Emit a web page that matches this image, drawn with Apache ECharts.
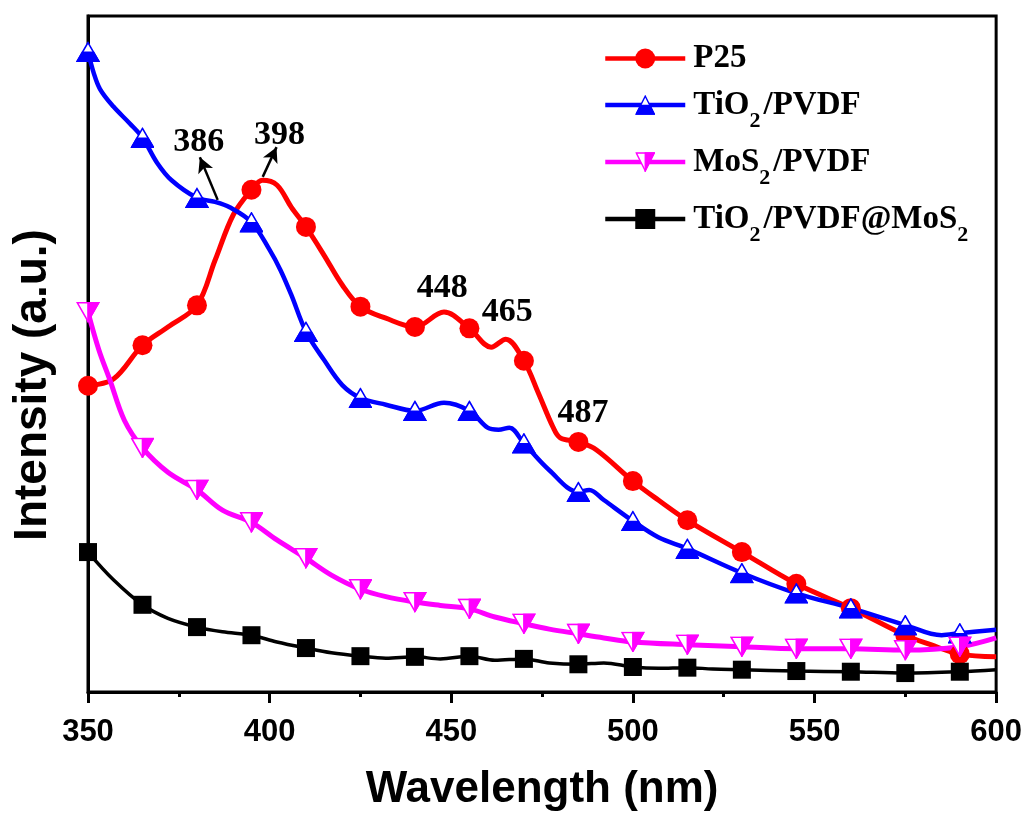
<!DOCTYPE html>
<html>
<head>
<meta charset="utf-8">
<script src="https://cdn.jsdelivr.net/npm/echarts@6/dist/echarts.min.js"></script>
<style>html,body{margin:0;padding:0;background:#fff}#c{width:1025px;height:819px}</style>
</head>
<body>
<div id="c"></div>
<script>
// ---- data ----
const xTicks = [350, 400, 450, 500, 550, 600];
const markerWl = [350,365,380,395,410,425,440,455,470,485,500,515,530,545,560,575,590];

const seriesNames = ['P25', 'TiO2/PVDF', 'MoS2/PVDF', 'TiO2/PVDF@MoS2'];
const legendLabels = ['{b|P25}', '{b|TiO}{s|2}{b|/PVDF}', '{b|MoS}{s|2}{b|/PVDF}', '{b|TiO}{s|2}{b|/PVDF@MoS}{s|2}'];

const p25Wl  = [350,357,365,372,380,385,390,395,398,402,406,410,415,420,425,432,440,448,455,461,465,470,474,478,480,485,490,500,507,515,530,545,560,575,582,590,600];
const p25Int = [45.3,46.3,51.3,54.0,57.2,63.9,70.6,74.3,75.7,75.0,71.7,68.8,64.6,60.2,57.0,55.3,54.0,56.2,53.8,51.0,52.2,49.0,44.2,39.2,37.6,37.0,35.8,31.2,28.4,25.4,20.7,16.0,12.4,8.4,7.0,5.6,5.2];

const tioWl  = [350,351.5,353.3,357,361.5,365,369,373,380,385,389,395,400,403,406,410,415,420,425,432,440,448,455,460,463,466,470,477,485,488,492,500,507,515,530,545,560,575,585,590,600];
const tioInt = [94.7,91.7,89.2,86.6,84.1,82.0,78.3,75.7,73.1,72.5,71.7,69.5,65.4,62.4,58.7,53.3,49.1,45.4,43.5,42.5,41.6,42.8,41.6,39.1,38.8,39.1,36.8,32.8,29.6,29.9,28.4,25.3,22.9,21.2,17.6,14.6,12.4,9.9,8.4,8.7,9.2];

const mosWl  = [350,353,356,360,365,372,380,387,395,402,410,417,425,432,440,447,455,462,470,477,485,492,500,515,530,545,560,575,590,600];
const mosInt = [56.2,50.6,46.2,40.2,36.1,32.5,29.9,26.9,25.1,22.5,19.8,17.3,15.2,14.1,13.3,12.8,12.3,11.1,10.1,9.3,8.6,8.0,7.4,7.0,6.7,6.4,6.4,6.2,6.7,8.0];

const compWl  = [350,357,365,372,380,387,395,402,410,417,425,432,440,447,455,462,470,477,485,492,500,507,515,522,530,545,560,575,590,600];
const compInt = [20.7,16.6,12.9,10.9,9.6,8.9,8.4,7.4,6.5,5.8,5.3,5.0,5.2,4.9,5.3,4.7,4.9,4.3,4.1,4.3,3.7,3.5,3.6,3.4,3.3,3.1,3.0,2.8,3.0,3.3];

const annLabels = ['386', '398', '448', '465', '487'];
const annX = [380.5, 402.7, 447.5, 465.4, 486.3];
const annY = [81.4, 82.4, 59.8, 56.2, 41.3];
const arrowFromX = [385.7, 398.1];
const arrowFromY = [72.8, 76.2];
const arrowToX = [380.8, 401.9];
const arrowToY = [79.1, 80.6];

// ---- helpers ----
function zip(xs, ys) { return xs.map((x, i) => [x, ys[i]]); }
function sizer(sz) { return function (v) { return markerWl.indexOf(v[0]) >= 0 ? sz : 0; }; }
function svgUri(svg) { return 'image://data:image/svg+xml;charset=utf-8,' + encodeURIComponent(svg); }

const triUp = svgUri('<svg xmlns="http://www.w3.org/2000/svg" width="48" height="42" viewBox="0 0 24 21">' +
  '<polygon points="12,1.2 22.8,20 1.2,20" fill="#ffffff" stroke="#0000ff" stroke-width="1.6" stroke-linejoin="miter"/>' +
  '<polygon points="6.4,11 17.6,11 22.8,20 1.2,20" fill="#0000ff" stroke="#0000ff" stroke-width="1.6"/></svg>');
const triDown = svgUri('<svg xmlns="http://www.w3.org/2000/svg" width="48" height="42" viewBox="0 0 24 21">' +
  '<polygon points="1.2,1 22.8,1 12,19.8" fill="#ffffff" stroke="#ff00ff" stroke-width="1.6"/>' +
  '<polygon points="12,1 22.8,1 12,19.8" fill="#ff00ff" stroke="#ff00ff" stroke-width="1.6"/></svg>');

const serif = 'Liberation Serif';
const sans = 'Liberation Sans';

function lineSeries(name, wl, val, color, width, symbol, size) {
  return {
    name: name, type: 'line', data: zip(wl, val), smooth: 0.35,
    symbol: symbol, symbolSize: sizer(size), showAllSymbol: true,
    lineStyle: { color: color, width: width },
    itemStyle: { color: color },
    emphasis: { disabled: true }
  };
}

const chart = echarts.init(document.getElementById('c'), null, { renderer: 'canvas' });
chart.setOption({
  animation: false,
  backgroundColor: '#ffffff',
  grid: { left: 88, right: 28, top: 16, bottom: 127, show: true, borderColor: '#000', borderWidth: 3 },
  legend: {
    orient: 'vertical', left: 603, top: 42, padding: 0, itemWidth: 80, itemHeight: 25, itemGap: 3,
    data: seriesNames,
    lineStyle: { width: 4.5 },
    formatter: function (n) { return legendLabels[seriesNames.indexOf(n)]; },
    textStyle: {
      rich: {
        b: { fontFamily: serif, fontWeight: 'bold', fontSize: 33, lineHeight: 32, verticalAlign: 'middle', color: '#000', padding: [0, 0, 0, 3] },
        s: { fontFamily: serif, fontWeight: 'bold', fontSize: 22, lineHeight: 22, padding: [32, 0, 0, 0], verticalAlign: 'middle', color: '#000' }
      }
    }
  },
  xAxis: {
    type: 'value', min: xTicks[0], max: xTicks[xTicks.length - 1], interval: 50,
    name: 'Wavelength (nm)', nameLocation: 'middle', nameGap: 76,
    nameTextStyle: { fontFamily: sans, fontWeight: 'bold', fontSize: 44, color: '#000' },
    axisLine: { lineStyle: { color: '#000', width: 3 } },
    axisTick: { inside: false, length: 11, lineStyle: { color: '#000', width: 3 } },
    minorTick: { show: true, splitNumber: 2, length: 5, lineStyle: { color: '#000', width: 3 } },
    axisLabel: { margin: 25, fontFamily: sans, fontWeight: 'bold', fontSize: 31, color: '#000' },
    splitLine: { show: false }
  },
  yAxis: {
    type: 'value', min: 0, max: 100,
    name: 'Intensity (a.u.)', nameLocation: 'middle', nameGap: 32,
    nameTextStyle: { fontFamily: sans, fontWeight: 'bold', fontSize: 46, color: '#000', padding: [0, 62, 0, 0] },
    axisLine: { show: true, lineStyle: { color: '#000', width: 3 } },
    axisTick: { show: false }, axisLabel: { show: false }, splitLine: { show: false }
  },
  series: [
    lineSeries(seriesNames[0], p25Wl, p25Int, '#ff0000', 5, 'circle', 20),
    lineSeries(seriesNames[1], tioWl, tioInt, '#0000ff', 4.5, triUp, [24, 21]),
    lineSeries(seriesNames[2], mosWl, mosInt, '#ff00ff', 5, triDown, [24, 21]),
    lineSeries(seriesNames[3], compWl, compInt, '#000000', 3.5, 'rect', 18),
    {
      name: 'annotations', type: 'scatter', z: 5, symbolSize: 0,
      itemStyle: { opacity: 1, color: '#000' },
      data: annLabels.map((t, i) => ({ name: t, value: [annX[i], annY[i]] })),
      label: { show: true, position: [0, 0], align: 'center', verticalAlign: 'middle', formatter: '{b}',
               fontFamily: serif, fontWeight: 'bold', fontSize: 34, color: '#000000', textBorderWidth: 0, opacity: 1 },
      emphasis: { disabled: true },
      markLine: {
        silent: true, animation: false, symbol: ['none', 'arrow'], symbolSize: [12, 15],
        lineStyle: { color: '#000', width: 2.5, type: 'solid', opacity: 1 }, label: { show: false },
        data: arrowFromX.map((x, i) => [{ coord: [x, arrowFromY[i]] }, { coord: [arrowToX[i], arrowToY[i]] }])
      }
    }
  ]
});
</script>
</body>
</html>
